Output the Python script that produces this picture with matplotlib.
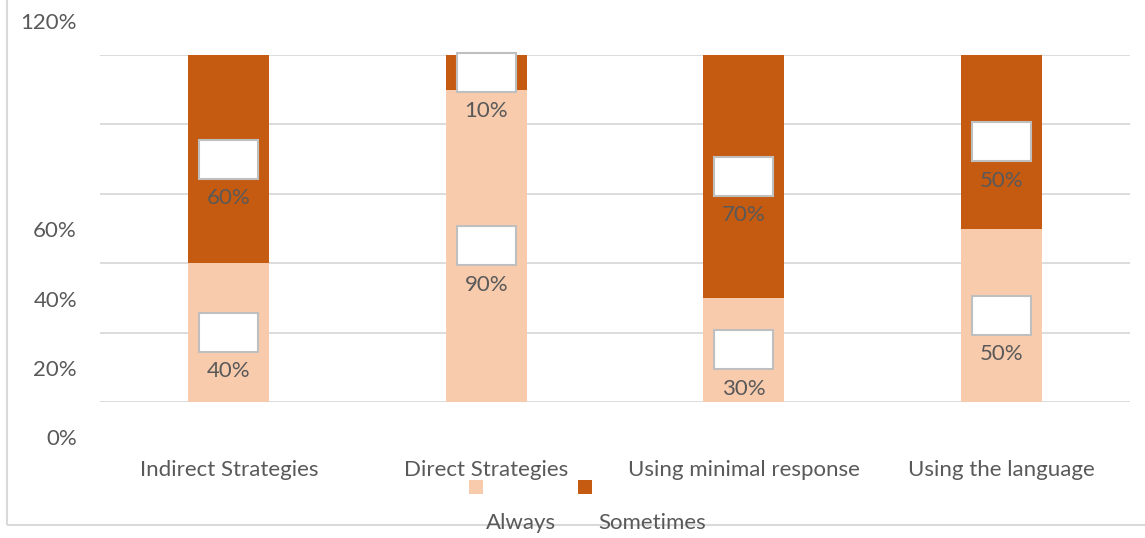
import matplotlib.pyplot as plt
from matplotlib.patches import Rectangle

categories = ["Indirect Strategies", "Direct Strategies", "Using minimal response", "Using the language"]
always = [40, 90, 30, 50]
sometimes = [60, 10, 70, 50]
series_names = ["Always", "Sometimes"]
ytick_values = [-10, 10, 30, 50, 110]
ytick_labels = ["0%", "20%", "40%", "60%", "120%"]

colors = ["#F8CBAD", "#C55A11"]
text_color = "#595959"
grid_color = "#D9D9D9"

plt.rcParams["font.family"] = ["Lato", "DejaVu Sans"]

W, H = 1145, 538
fig = plt.figure(figsize=(W / 100, H / 100), dpi=100)
ax = fig.add_axes([100 / W, (H - 402) / H, 1030 / W, 347 / H])

x = list(range(len(categories)))
ax.set_xlim(-0.5, len(categories) - 0.5)
ax.set_ylim(0, 100)

for g in range(0, 101, 20):
    ax.axhline(g, color=grid_color, lw=1.3, zorder=0)

width = 0.315
ax.bar(x, always, width, color=colors[0], zorder=2)
ax.bar(x, sometimes, width, bottom=always, color=colors[1], zorder=2)

# data labels: empty white box at the segment centre, value printed below it
box_w, box_h = 59 / 257.5, 39 / 3.47
for xi, a, s in zip(x, always, sometimes):
    for bottom, val in ((0, a), (a, s)):
        mid = bottom + val / 2
        ax.add_patch(Rectangle((xi - box_w / 2, mid - box_h / 2), box_w, box_h,
                               facecolor="white", edgecolor="#BFBFBF", lw=1.5,
                               zorder=3, clip_on=False))
        ax.annotate(f"{val}%", (xi, mid), xytext=(0, -28), textcoords="offset points",
                    ha="center", va="center", fontsize=16, color=text_color, zorder=4)

# y labels sit 23 px left of the axes, offset half a grid step
label_x = -0.5 - 23 / 257.5
for v, lab in zip(ytick_values, ytick_labels):
    ax.text(label_x, v - 0.8, lab, ha="right", va="center",
            fontsize=16, color=text_color, clip_on=False)
ax.set_yticks([])

ax.set_xticks(x)
ax.set_xticklabels(categories, fontsize=16, color=text_color)
ax.tick_params(axis="x", length=0, pad=42)
for sp in ax.spines.values():
    sp.set_visible(False)

# legend: colour squares sit above and to the left of their names
sq = 14
for (sx, tx), name, c in zip(((469, 521), (578, 652)), series_names, colors):
    fig.add_artist(Rectangle((sx / W, (H - 494) / H), sq / W, sq / H,
                             facecolor=c, edgecolor="none", transform=fig.transFigure))
    fig.text(tx / W, (H - 523) / H, name, ha="center", va="center",
             fontsize=16, color=text_color)

# chart area border
fig.add_artist(Rectangle((7 / W, (H - 525) / H), 1.2, 1.2, facecolor="none",
                         edgecolor=grid_color, lw=1.5, transform=fig.transFigure,
                         zorder=-1))

fig.savefig("out.png", dpi=100)
